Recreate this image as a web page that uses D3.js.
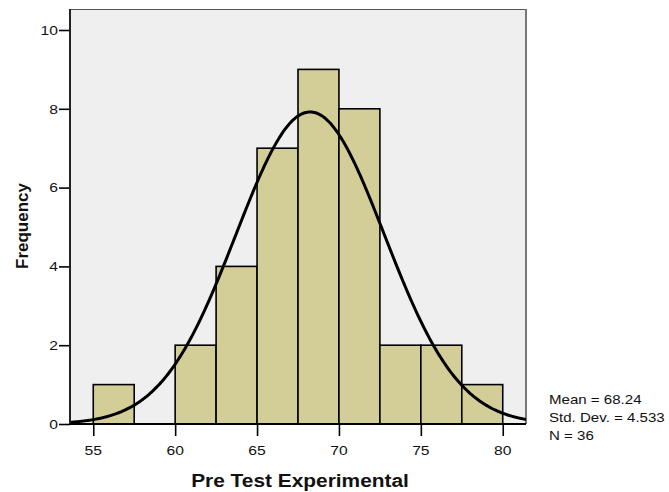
<!DOCTYPE html>
<html><head><meta charset="utf-8">
<script src="https://cdn.jsdelivr.net/npm/d3@7"></script>
<style>body{margin:0;background:#fff}svg{display:block}text{font-family:"Liberation Sans",Arial,sans-serif}</style>
</head><body><svg id="c" width="669" height="492"></svg>
<script>
const binStarts = [55, 57.5, 60, 62.5, 65, 67.5, 70, 72.5, 75, 77.5];
const binCounts = [1, 0, 2, 4, 7, 9, 8, 2, 2, 1];
const binWidth = 2.5;
const xTicks = [55, 60, 65, 70, 75, 80];
const yTicks = [0, 2, 4, 6, 8, 10];
const statLines = ["Mean = 68.24", "Std. Dev. = 4.533", "N = 36"];
const mean = 68.24, sd = 4.533, n = 36;

const svg = d3.select("#c");
const L = 70, R = 526, T = 9, B = 424;
const SX = 1.16;
const x = d3.scaleLinear().domain([53.58, 81.42]).range([L, R]);
const y = d3.scaleLinear().domain([0, 10]).range([B, 30]);

svg.append("rect").attr("x", L).attr("y", T).attr("width", R - L).attr("height", B - T).attr("fill", "#EFEFEF");
svg.append("line").attr("x1", L).attr("x2", R).attr("y1", T + 0.5).attr("y2", T + 0.5).attr("stroke", "#555").attr("stroke-width", 1);
svg.append("line").attr("x1", R).attr("x2", R).attr("y1", T).attr("y2", B).attr("stroke", "#777").attr("stroke-width", 2);

svg.append("defs").append("clipPath").attr("id", "clip").append("rect").attr("x", L).attr("y", T).attr("width", R - L).attr("height", B - T);

const bars = binStarts.map((s, i) => ({s, c: binCounts[i]})).filter(d => d.c > 0);
svg.append("g").selectAll("rect").data(bars).join("rect")
  .attr("x", d => x(d.s)).attr("y", d => y(d.c))
  .attr("width", d => x(d.s + binWidth) - x(d.s)).attr("height", d => y(0) - y(d.c))
  .attr("fill", "#D3CE98").attr("stroke", "#000").attr("stroke-width", 1.6);

const pts = d3.range(0, 301).map(i => {
  const v = 53.58 + i * (81.42 - 53.58) / 300;
  return [v, n * binWidth * Math.exp(-0.5 * ((v - mean) / sd) ** 2) / (sd * Math.sqrt(2 * Math.PI))];
});
svg.append("path").attr("clip-path", "url(#clip)").datum(pts)
  .attr("d", d3.line().x(d => x(d[0])).y(d => y(d[1])).curve(d3.curveBasis))
  .attr("fill", "none").attr("stroke", "#000").attr("stroke-width", 3);

// axes (ticks)
const xa = svg.append("g").attr("transform", `translate(0,${B})`)
  .call(d3.axisBottom(x).tickValues(xTicks).tickSize(12).tickFormat(""));
const ya = svg.append("g").attr("transform", `translate(${L},0)`)
  .call(d3.axisLeft(y).tickValues(yTicks).tickSize(11).tickFormat(""));
[xa, ya].forEach(g => {
  g.select(".domain").remove();
  g.selectAll("line").attr("stroke", "#000").attr("stroke-width", 1.6);
});
svg.append("line").attr("x1", L).attr("x2", L).attr("y1", T).attr("y2", B).attr("stroke", "#222").attr("stroke-width", 2);
svg.append("line").attr("x1", L).attr("x2", R).attr("y1", B).attr("y2", B).attr("stroke", "#000").attr("stroke-width", 2);

// tick labels
svg.append("g").selectAll("text").data(xTicks).join("text")
  .attr("transform", d => `translate(${x(d)},455) scale(${SX},1)`)
  .attr("text-anchor", "middle").style("font-size", "13.5px").attr("fill", "#111").text(d => d);
svg.append("g").selectAll("text").data(yTicks).join("text")
  .attr("transform", d => `translate(58,${y(d)}) scale(${SX},1)`)
  .attr("dy", "0.36em")
  .attr("text-anchor", "end").style("font-size", "13.5px").attr("fill", "#111").text(d => d);

svg.append("text").attr("transform", `translate(300,487) scale(${SX},1)`).attr("text-anchor", "middle")
  .style("font-size", "18px").style("font-weight", "bold").attr("fill", "#111").text("Pre Test Experimental");
svg.append("text").attr("transform", "translate(28,226) rotate(-90)").attr("text-anchor", "middle")
  .style("font-size", "17px").style("font-weight", "bold").attr("fill", "#111").text("Frequency");

svg.append("g").selectAll("text").data(statLines).join("text")
  .attr("transform", (d, i) => `translate(549,${404 + i * 18.2}) scale(${SX},1)`)
  .style("font-size", "13px").attr("fill", "#111").text(d => d);
</script></body></html>
